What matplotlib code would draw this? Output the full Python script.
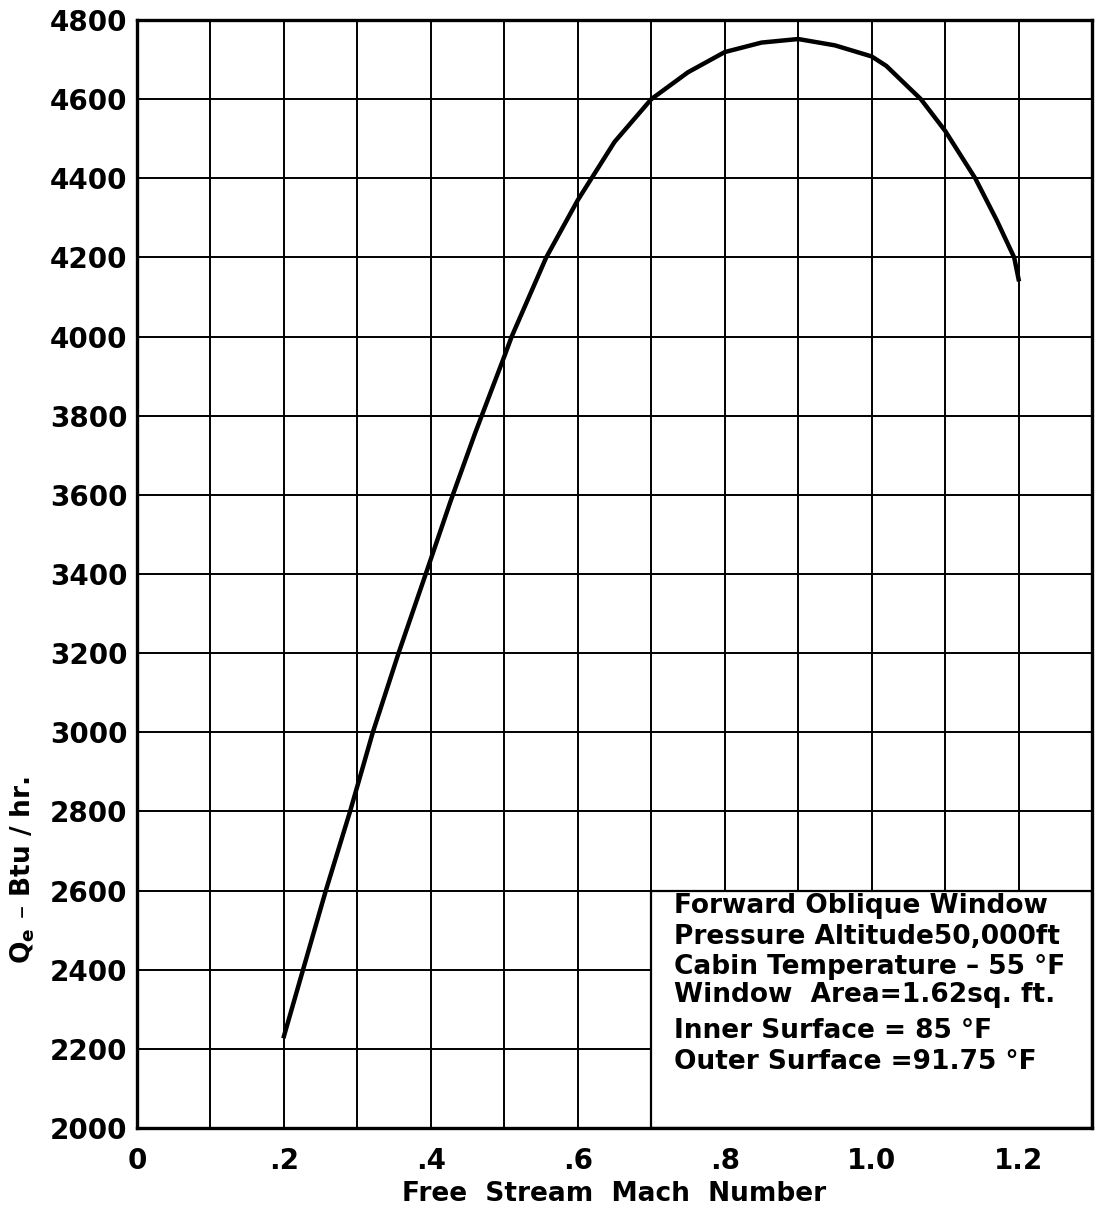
import numpy as np
import matplotlib.pyplot as plt
from matplotlib.patches import Rectangle

# values
mach = [0.2, 0.226, 0.257, 0.29, 0.321, 0.356, 0.393, 0.427, 0.46, 0.5,
        0.51, 0.557, 0.6, 0.65, 0.7, 0.75, 0.8, 0.85, 0.9,
        0.95, 1.0, 1.02, 1.067, 1.1, 1.141, 1.17, 1.194, 1.2]
qe = [2232, 2400, 2600, 2800, 3000, 3200, 3400, 3585, 3755, 3950,
      4000, 4200, 4345, 4492, 4600, 4668, 4719, 4743, 4752,
      4736, 4708, 4684, 4600, 4520, 4400, 4295, 4200, 4145]

xticks = [0, 0.2, 0.4, 0.6, 0.8, 1.0, 1.2]
xtick_labels = ['0', '.2', '.4', '.6', '.8', '1.0', '1.2']
yticks = list(range(2000, 4801, 200))

notes = ["Forward Oblique Window",
         "Pressure Altitude50,000ft",
         "Cabin Temperature \u2013 55 \u00b0F",
         "Window  Area=1.62sq. ft.",
         "Inner Surface = 85 \u00b0F",
         "Outer Surface =91.75 \u00b0F"]
note_y = [2560, 2484, 2408, 2337, 2244, 2168]

plt.rcParams['font.family'] = 'DejaVu Sans'
plt.rcParams['font.weight'] = 'bold'
plt.rcParams['mathtext.default'] = 'bf'

fig = plt.figure(figsize=(10.96, 12.14), dpi=100)
ax = fig.add_axes([0.125, 0.0708, 0.8714, 0.9127])

ax.set_xlim(0, 1.3)
ax.set_ylim(2000, 4800)

ax.set_xticks(xticks)
ax.set_xticklabels(xtick_labels)
ax.set_xticks(np.arange(0, 1.31, 0.1), minor=True)
ax.set_yticks(yticks)
ax.set_yticklabels([str(v) for v in yticks])
ax.tick_params(which='both', length=0)
ax.tick_params(axis='both', labelsize=20)
ax.tick_params(axis='x', pad=14)
ax.tick_params(axis='y', pad=7)
ax.grid(True, which='both', color='black', linewidth=1.4, zorder=1)
ax.set_axisbelow(True)

for s in ax.spines.values():
    s.set_linewidth(2.4)
    s.set_zorder(5)

ax.plot(mach, qe, color='black', linewidth=3.2, zorder=3,
        solid_joinstyle='round')

# notes box in the lower right corner, covers the grid
ax.add_patch(Rectangle((0.7, 2000), 0.6, 600, facecolor='white',
                       edgecolor='black', linewidth=1.6, zorder=2))
for t, y in zip(notes, note_y):
    ax.text(0.731, y, t, fontsize=19, fontweight='bold', va='center',
            ha='left', zorder=4)

ax.set_xlabel('Free  Stream  Mach  Number', fontsize=19,
              fontweight='bold', labelpad=4)
ax.set_ylabel('Q$_e$ \u2013 Btu / hr.', fontsize=19, fontweight='bold')
ax.yaxis.set_label_coords(-0.105, 0.233)

fig.savefig('out.png', dpi=100)
